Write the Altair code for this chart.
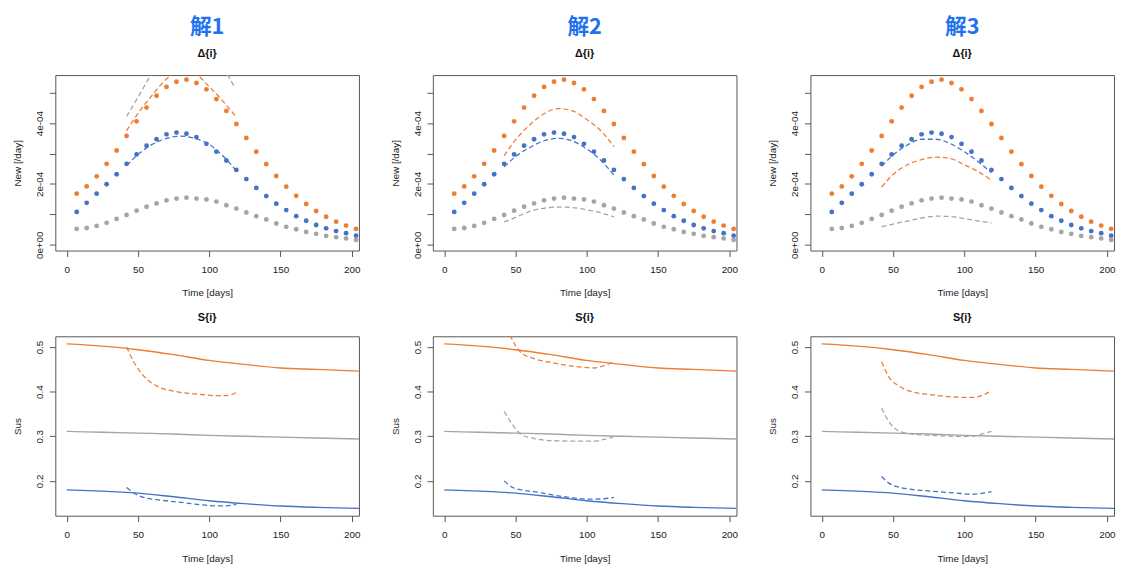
import altair as alt
import pandas as pd

# ---------------- data ----------------
PANEL_TITLES = ["解1", "解2", "解3"]
TOP_TITLE = "Δ{i}"
BOTTOM_TITLE = "S{i}"
SERIES = ["orange", "blue", "gray"]
COLORS = ["#ED7D31", "#4472C4", "#A5A5A5"]

# observed new cases (units of 1e-4 per day), identical in all three panels
POINT_DAYS = [7, 14, 21, 28, 35, 42, 49, 56, 63, 70, 77, 84, 91, 98, 105,
              112, 119, 126, 133, 140, 147, 154, 161, 168, 175, 182, 189, 196, 203]
OBS_ORANGE = [1.68, 1.92, 2.25, 2.66, 3.10, 3.58, 4.06, 4.51, 4.90, 5.19, 5.36, 5.43, 5.32, 5.11, 4.79,
              4.40, 3.97, 3.51, 3.06, 2.65, 2.26, 1.91, 1.61, 1.34, 1.11, 0.92, 0.76, 0.63, 0.52]
OBS_BLUE = [1.08, 1.38, 1.68, 1.99, 2.32, 2.66, 2.97, 3.26, 3.47, 3.63, 3.69, 3.65, 3.54, 3.32, 3.06,
            2.77, 2.46, 2.16, 1.87, 1.60, 1.35, 1.14, 0.94, 0.79, 0.65, 0.54, 0.45, 0.38, 0.30]
OBS_GRAY = [0.52, 0.55, 0.62, 0.72, 0.85, 0.98, 1.12, 1.25, 1.36, 1.46, 1.52, 1.55, 1.52, 1.49, 1.42,
            1.30, 1.19, 1.06, 0.94, 0.83, 0.70, 0.59, 0.51, 0.42, 0.36, 0.29, 0.25, 0.21, 0.16]

# fitted new cases (dashed), units of 1e-4 per day
FIT_DAYS = [42, 50, 60, 70, 80, 90, 100, 110, 119]
FIT1_ORANGE = [3.75, 4.32, 4.92, 5.45, 5.72, 5.62, 5.20, 4.70, 4.20]
FIT1_BLUE = [2.60, 2.97, 3.30, 3.50, 3.57, 3.50, 3.30, 2.90, 2.43]
FIT1_GRAY_DAYS = [42, 50, 58, 65, 75, 86, 95, 105, 113, 118]
FIT1_GRAY = [4.22, 4.85, 5.50, 5.95, 6.40, 6.60, 6.50, 6.10, 5.58, 5.15]
FIT2_ORANGE = [2.93, 3.45, 3.94, 4.31, 4.48, 4.40, 4.12, 3.74, 3.23]
FIT2_BLUE = [2.56, 2.90, 3.20, 3.42, 3.50, 3.41, 3.15, 2.77, 2.29]
FIT2_GRAY = [0.75, 0.90, 1.10, 1.20, 1.24, 1.22, 1.15, 1.05, 0.92]
FIT3_ORANGE = [1.90, 2.31, 2.63, 2.80, 2.88, 2.84, 2.63, 2.40, 2.12]
FIT3_BLUE = [2.58, 2.95, 3.28, 3.47, 3.47, 3.33, 3.06, 2.72, 2.37]
FIT3_GRAY = [0.59, 0.68, 0.78, 0.88, 0.94, 0.93, 0.86, 0.78, 0.72]

# susceptible (solid), identical in all three panels
SUS_DAYS = [0, 25, 50, 75, 100, 125, 150, 175, 205]
SUS_ORANGE = [0.507, 0.502, 0.494, 0.483, 0.470, 0.461, 0.453, 0.450, 0.446]
SUS_BLUE = [0.180, 0.177, 0.1726, 0.1644, 0.1556, 0.149, 0.1437, 0.1407, 0.1385]
SUS_GRAY = [0.311, 0.309, 0.307, 0.305, 0.302, 0.300, 0.298, 0.296, 0.294]

# fitted susceptible (dashed)
SFIT_DAYS = [42, 47, 54, 63, 77, 93, 105, 112, 119]
SFIT1_ORANGE = [0.500, 0.467, 0.435, 0.413, 0.400, 0.394, 0.391, 0.391, 0.398]
SFIT1_BLUE = [0.185, 0.173, 0.163, 0.158, 0.153, 0.147, 0.144, 0.144, 0.148]
SFIT2_ORANGE = [0.560, 0.521, 0.487, 0.474, 0.464, 0.456, 0.453, 0.458, 0.467]
SFIT2_BLUE = [0.200, 0.187, 0.180, 0.176, 0.168, 0.161, 0.159, 0.160, 0.163]
SFIT2_GRAY = [0.356, 0.330, 0.304, 0.295, 0.290, 0.289, 0.289, 0.293, 0.299]
SFIT3_ORANGE = [0.467, 0.433, 0.413, 0.400, 0.393, 0.388, 0.387, 0.391, 0.402]
SFIT3_BLUE = [0.210, 0.195, 0.186, 0.181, 0.177, 0.173, 0.170, 0.172, 0.176]
SFIT3_GRAY = [0.363, 0.333, 0.312, 0.305, 0.302, 0.300, 0.300, 0.305, 0.311]

X_TICKS = [0, 50, 100, 150, 200]
Y_TOP_TICKS = [0, 1, 2, 3, 4, 5]          # in units of 1e-4
Y_TOP_LABELS = {0: "0e+00", 2: "2e-04", 4: "4e-04"}
Y_BOT_TICKS = [0.2, 0.3, 0.4, 0.5]

# ---------------- helpers ----------------
FONT = "Liberation Sans"
W, H_TOP, H_BOT = 308, 178, 182
X_DOM = [-8, 205]
Y_TOP_DOM = [-0.19, 5.58]
Y_BOT_DOM = [0.122, 0.524]


def frame(pairs):
    rows = []
    for name, days, vals in pairs:
        for d, v in zip(days, vals):
            rows.append({"series": name, "day": d, "value": v})
    return pd.DataFrame(rows)


color = alt.Color("series:N", scale=alt.Scale(domain=SERIES, range=COLORS), legend=None)
x_enc = alt.X("day:Q", scale=alt.Scale(domain=X_DOM, nice=False, zero=False),
              axis=alt.Axis(values=X_TICKS, title="Time [days]", format="d"))

label_expr = " : ".join(f"datum.value == {k} ? '{v}'" for k, v in Y_TOP_LABELS.items()) + " : ''"


def top_panel(title, fits):
    obs = frame([("orange", POINT_DAYS, OBS_ORANGE), ("blue", POINT_DAYS, OBS_BLUE),
                 ("gray", POINT_DAYS, OBS_GRAY)])
    fit = frame(fits)
    y_enc = alt.Y("value:Q", scale=alt.Scale(domain=Y_TOP_DOM, nice=False, zero=False),
                  axis=alt.Axis(values=Y_TOP_TICKS, labelExpr=label_expr, title="New [/day]"))
    pts = alt.Chart(obs).mark_circle(size=24, opacity=1).encode(x=x_enc, y=y_enc, color=color)
    lines = alt.Chart(fit).mark_line(strokeDash=[5, 3], strokeWidth=1.3, clip=True,
                                     interpolate="monotone").encode(
        x=x_enc, y=y_enc, color=color, detail="series:N")
    return alt.layer(pts, lines).properties(
        width=W, height=H_TOP,
        title=alt.TitleParams(text=title, subtitle=TOP_TITLE, anchor="middle", frame="group",
                              font="Noto Sans CJK SC", fontSize=22, fontWeight="bold",
                              color="#1F72EE", subtitleFont=FONT, subtitleFontSize=11,
                              subtitleFontWeight="bold", subtitleColor="#111",
                              subtitlePadding=10, offset=15))


def bottom_panel(fits):
    sus = frame([("orange", SUS_DAYS, SUS_ORANGE), ("blue", SUS_DAYS, SUS_BLUE),
                 ("gray", SUS_DAYS, SUS_GRAY)])
    fit = frame(fits)
    y_enc = alt.Y("value:Q", scale=alt.Scale(domain=Y_BOT_DOM, nice=False, zero=False),
                  axis=alt.Axis(values=Y_BOT_TICKS, format=".1f", title="Sus"))
    solid = alt.Chart(sus).mark_line(strokeWidth=1.4, clip=True, interpolate="monotone").encode(
        x=x_enc, y=y_enc, color=color, detail="series:N")
    dashed = alt.Chart(fit).mark_line(strokeDash=[5, 3], strokeWidth=1.3, clip=True,
                                      interpolate="monotone").encode(
        x=x_enc, y=y_enc, color=color, detail="series:N")
    return alt.layer(solid, dashed).properties(
        width=W, height=H_BOT,
        title=alt.TitleParams(text=BOTTOM_TITLE, anchor="middle", frame="group", font=FONT,
                              fontSize=11, fontWeight="bold", color="#111", offset=14))


tops = [
    top_panel(PANEL_TITLES[0], [("orange", FIT_DAYS, FIT1_ORANGE), ("blue", FIT_DAYS, FIT1_BLUE),
                                ("gray", FIT1_GRAY_DAYS, FIT1_GRAY)]),
    top_panel(PANEL_TITLES[1], [("orange", FIT_DAYS, FIT2_ORANGE), ("blue", FIT_DAYS, FIT2_BLUE),
                                ("gray", FIT_DAYS, FIT2_GRAY)]),
    top_panel(PANEL_TITLES[2], [("orange", FIT_DAYS, FIT3_ORANGE), ("blue", FIT_DAYS, FIT3_BLUE),
                                ("gray", FIT_DAYS, FIT3_GRAY)]),
]
bottoms = [
    bottom_panel([("orange", SFIT_DAYS, SFIT1_ORANGE), ("blue", SFIT_DAYS, SFIT1_BLUE)]),
    bottom_panel([("orange", SFIT_DAYS, SFIT2_ORANGE), ("blue", SFIT_DAYS, SFIT2_BLUE),
                  ("gray", SFIT_DAYS, SFIT2_GRAY)]),
    bottom_panel([("orange", SFIT_DAYS, SFIT3_ORANGE), ("blue", SFIT_DAYS, SFIT3_BLUE),
                  ("gray", SFIT_DAYS, SFIT3_GRAY)]),
]

columns = [alt.vconcat(t, b, spacing=12) for t, b in zip(tops, bottoms)]

chart = alt.hconcat(*columns, spacing=29).properties(
    padding={"left": 4, "top": 3, "right": 0, "bottom": 0}
).configure_view(
    stroke="#555", strokeWidth=1
).configure_axis(
    grid=False, domain=False, tickColor="#555", tickSize=6, tickWidth=1,
    labelFont=FONT, labelFontSize=10, labelColor="#222", labelPadding=5,
    titleFont=FONT, titleFontSize=10, titleFontWeight="normal", titleColor="#222",
).configure_axisX(
    labelPadding=8, titlePadding=14
).configure_axisY(
    labelAngle=-90, labelAlign="center", labelBaseline="bottom", titlePadding=12,
    minExtent=21, maxExtent=21
)

chart.save("out.html", embed_options={"renderer": "svg", "actions": False})
